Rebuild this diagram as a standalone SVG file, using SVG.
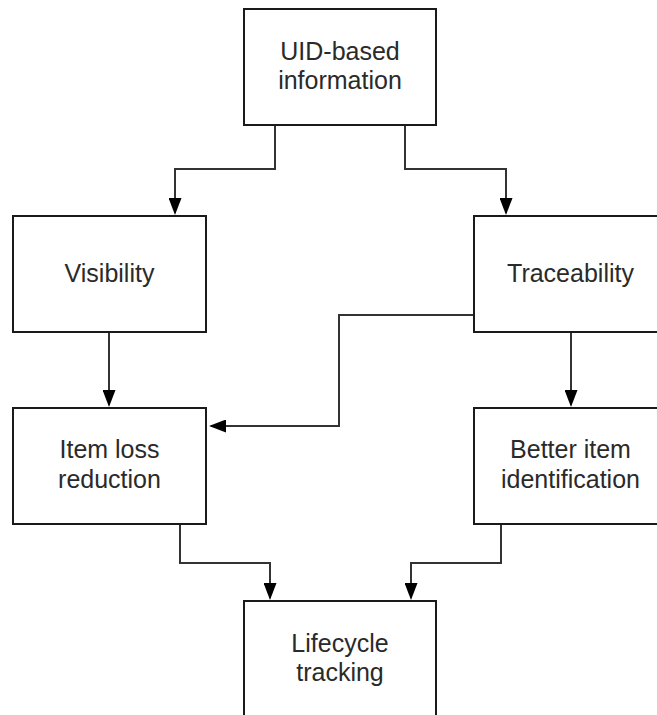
<svg xmlns="http://www.w3.org/2000/svg" width="657" height="715" viewBox="0 0 657 715">
  <style>
    .box { fill: #ffffff; stroke: #1a1a1a; stroke-width: 2; }
    .lbl { font-family: "Liberation Sans", Arial, sans-serif; font-size: 25px; fill: #2a2a2a; text-anchor: middle; }
    .conn { fill: none; stroke: #333333; stroke-width: 2; marker-end: url(#arrow); }
  </style>
  <defs>
    <marker id="arrow" viewBox="0 0 17 13" markerUnits="userSpaceOnUse" markerWidth="17" markerHeight="13" refX="15" refY="6.5" orient="auto">
      <path d="M0,0 L17,6.5 L0,13 z" fill="#000000"/>
    </marker>
  </defs>
  <rect width="657" height="715" fill="#ffffff"/>

  <g id="connectors">
    <path class="conn" d="M275,125 V169 H175 V213"/>
    <path class="conn" d="M405,125 V169 H506 V213"/>
    <path class="conn" d="M109,332 V405"/>
    <path class="conn" d="M571,332 V405"/>
    <path class="conn" d="M474,315 H339 V426 H211"/>
    <path class="conn" d="M180,524 V563 H270 V598"/>
    <path class="conn" d="M501,524 V563 H411 V598"/>
  </g>

  <g id="uid">
    <rect class="box" x="244" y="9" width="192" height="116"/>
    <text class="lbl" x="340" y="60">UID-based</text>
    <text class="lbl" x="340" y="89">information</text>
  </g>
  <g id="visibility">
    <rect class="box" x="13" y="216" width="193" height="116"/>
    <text class="lbl" x="109.5" y="282">Visibility</text>
  </g>
  <g id="traceability">
    <rect class="box" x="474" y="216" width="193" height="116"/>
    <text class="lbl" x="570.5" y="282">Traceability</text>
  </g>
  <g id="itemloss">
    <rect class="box" x="13" y="408" width="193" height="116"/>
    <text class="lbl" x="109.5" y="458">Item loss</text>
    <text class="lbl" x="109.5" y="488">reduction</text>
  </g>
  <g id="betteritem">
    <rect class="box" x="474" y="408" width="193" height="116"/>
    <text class="lbl" x="570.5" y="458">Better item</text>
    <text class="lbl" x="570.5" y="488">identification</text>
  </g>
  <g id="lifecycle">
    <rect class="box" x="244" y="601" width="192" height="130"/>
    <text class="lbl" x="340" y="652">Lifecycle</text>
    <text class="lbl" x="340" y="681">tracking</text>
  </g>
</svg>
